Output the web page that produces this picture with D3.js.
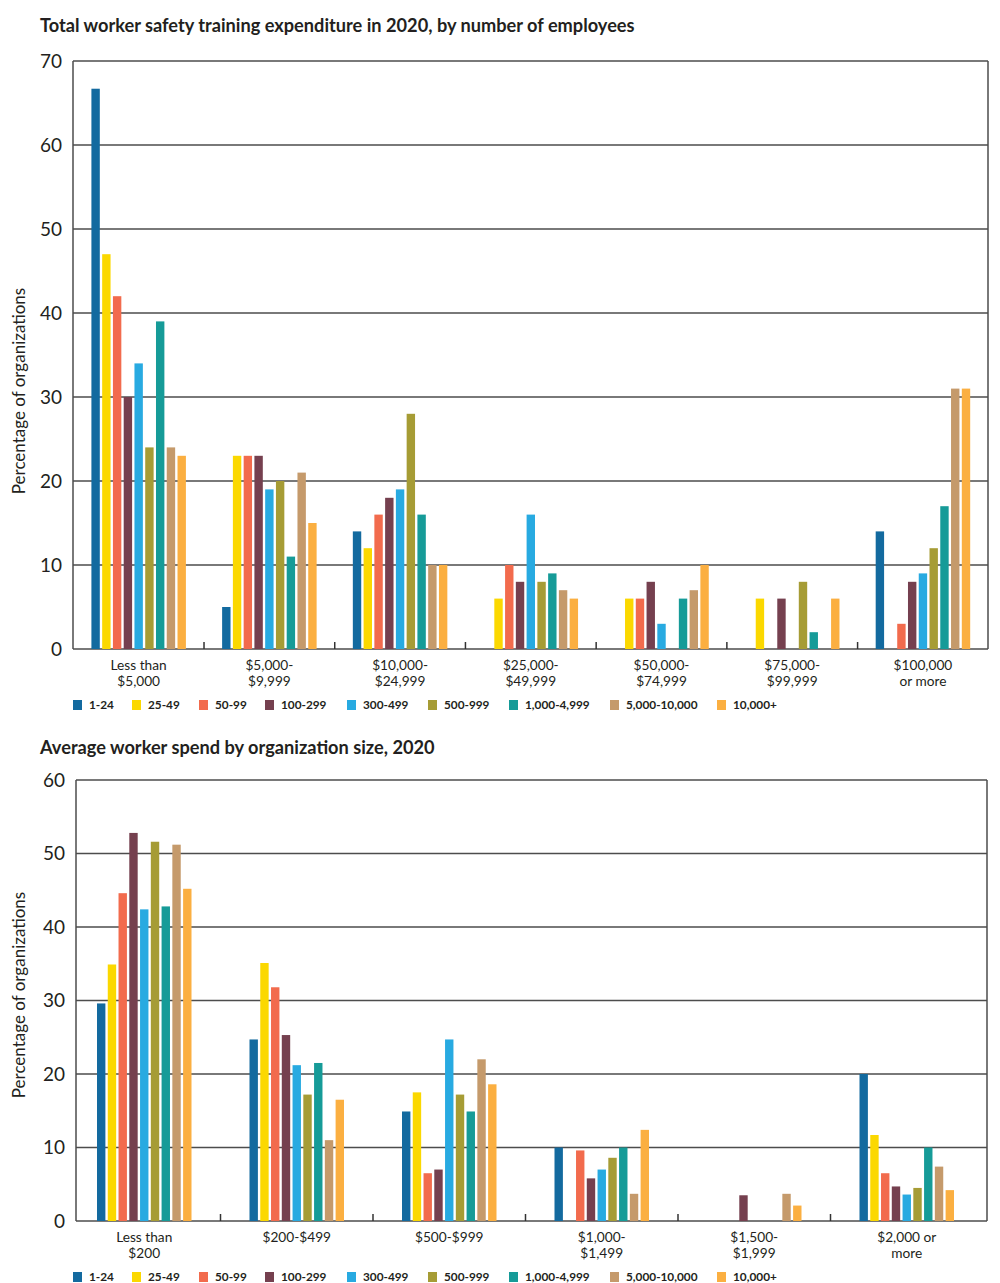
<!DOCTYPE html>
<html lang="en">
<head>
<meta charset="UTF-8">
<title>Worker safety training</title>
<script src="https://cdn.jsdelivr.net/npm/d3@7"></script>
<style>
  body { margin: 0; background: #fff; }
  text { font-family: Lato, "Open Sans", sans-serif; fill: #231f20; }
</style>
</head>
<body>
<script>
// series (organisation size) and colours
var sizes = ['1-24', '25-49', '50-99', '100-299', '300-499', '500-999', '1,000-4,999', '5,000-10,000', '10,000+'];
var colors = ['#136a9f', '#fbd800', '#f26b4d', '#75404f', '#28aae1', '#a69c35', '#169b98', '#c59a6b', '#fbaf41'];

// chart 1: total expenditure
var totalCats = [['Less than', '$5,000'], ['$5,000-', '$9,999'], ['$10,000-', '$24,999'], ['$25,000-', '$49,999'],
                 ['$50,000-', '$74,999'], ['$75,000-', '$99,999'], ['$100,000', 'or more']];
var totalValues = [
  [66.7, 47, 42, 30, 34, 24, 39, 24, 23],
  [5, 23, 23, 23, 19, 20, 11, 21, 15],
  [14, 12, 16, 18, 19, 28, 16, 10, 10],
  [0, 6, 10, 8, 16, 8, 9, 7, 6],
  [0, 6, 6, 8, 3, 0, 6, 7, 10],
  [0, 6, 0, 6, 0, 8, 2, 0, 6],
  [14, 0, 3, 8, 9, 12, 17, 31, 31]
];
var totalTicks = [0, 10, 20, 30, 40, 50, 60, 70];

// chart 2: average spend per worker
var avgCats = [['Less than', '$200'], ['$200-$499'], ['$500-$999'], ['$1,000-', '$1,499'], ['$1,500-', '$1,999'], ['$2,000 or', 'more']];
var avgValues = [
  [29.6, 34.9, 44.6, 52.8, 42.4, 51.6, 42.8, 51.2, 45.2],
  [24.7, 35.1, 31.8, 25.3, 21.2, 17.2, 21.5, 11.0, 16.5],
  [14.9, 17.5, 6.5, 7.0, 24.7, 17.2, 14.9, 22.0, 18.6],
  [10.0, 0, 9.6, 5.8, 7.0, 8.6, 10.0, 3.7, 12.4],
  [0, 0, 0, 3.5, 0, 0, 0, 3.7, 2.1],
  [20.0, 11.7, 6.5, 4.7, 3.6, 4.5, 10.0, 7.4, 4.2]
];
var avgTicks = [0, 10, 20, 30, 40, 50, 60];

var svg = d3.select('body').append('svg')
    .attr('width', 1000)
    .attr('height', 1283);

function drawChart(o) {
    var g = svg.append('g');

    g.append('text')
        .attr('x', 40).attr('y', o.titleY)
        .style('font-size', '18.2px').style('font-weight', 700)
        .text(o.title);

    var y = d3.scaleLinear().domain([0, d3.max(o.ticks)]).range([o.bottom, o.top]);
    var x0 = d3.scaleBand().domain(d3.range(o.cats.length)).range(o.band);
    var x1 = d3.scaleBand().domain(d3.range(sizes.length))
        .range([0, sizes.length * 10.5]).paddingInner(0.22);
    var groupOffset = (x0.bandwidth() - sizes.length * 10.5) / 2;

    // grid lines
    g.selectAll('.grid').data(o.ticks).enter().append('line')
        .attr('x1', o.left).attr('x2', o.right)
        .attr('y1', function (d) { return y(d); })
        .attr('y2', function (d) { return y(d); })
        .attr('stroke', '#4d4d4d').attr('stroke-width', 1.5);

    // y axis (labels only, the frame is drawn by hand)
    var yAxis = d3.axisLeft(y).tickValues(o.ticks).tickSize(0).tickPadding(11);
    var ya = g.append('g').attr('transform', 'translate(' + o.left + ',0)').call(yAxis);
    ya.select('.domain').remove();
    ya.selectAll('text').style('font-size', '19px').style('font-weight', 400)
        .style('font-family', 'Lato, sans-serif').attr('fill', '#231f20');

    // frame
    g.append('line').attr('x1', o.left).attr('x2', o.left).attr('y1', o.top).attr('y2', o.bottom)
        .attr('stroke', '#4d4d4d').attr('stroke-width', 1.5);
    g.append('line').attr('x1', o.right).attr('x2', o.right).attr('y1', o.top).attr('y2', o.bottom)
        .attr('stroke', '#4d4d4d').attr('stroke-width', 1.5);

    // category separators
    g.selectAll('.sep').data(d3.range(1, o.cats.length)).enter().append('line')
        .attr('x1', function (d) { return x0(d); })
        .attr('x2', function (d) { return x0(d); })
        .attr('y1', o.bottom).attr('y2', o.bottom - 7)
        .attr('stroke', '#333').attr('stroke-width', 1.5);

    // bars
    var groups = g.selectAll('.grp').data(o.values).enter().append('g')
        .attr('transform', function (d, i) { return 'translate(' + (x0(i) + groupOffset) + ',0)'; });
    groups.selectAll('rect').data(function (d) { return d; }).enter().append('rect')
        .attr('x', function (d, i) { return x1(i); })
        .attr('y', function (d) { return y(d); })
        .attr('width', x1.bandwidth())
        .attr('height', function (d) { return o.bottom - y(d); })
        .attr('fill', function (d, i) { return colors[i]; });

    // category labels
    var lab = g.selectAll('.cat').data(o.cats).enter().append('text')
        .attr('x', function (d, i) { return x0(i) + x0.bandwidth() / 2; })
        .attr('y', o.bottom + 21)
        .attr('text-anchor', 'middle')
        .style('font-size', '13.7px');
    lab.selectAll('tspan').data(function (d) { return d; }).enter().append('tspan')
        .attr('x', function () { return d3.select(this.parentNode).attr('x'); })
        .attr('dy', function (d, i) { return i === 0 ? 0 : 15.5; })
        .text(function (d) { return d; });

    // y title
    g.append('text')
        .attr('transform', 'translate(' + o.ylabX + ',' + o.ylabY + ') rotate(-90)')
        .attr('text-anchor', 'middle')
        .style('font-size', '17px')
        .text('Percentage of organizations');

    // legend
    var legX = [73, 132, 199, 265, 347, 428, 509, 610, 717];
    var leg = g.selectAll('.leg').data(sizes).enter().append('g')
        .attr('transform', function (d, i) { return 'translate(' + legX[i] + ',' + o.legY + ')'; });
    leg.append('rect').attr('x', 0).attr('y', -5).attr('width', 9).attr('height', 10)
        .attr('fill', function (d, i) { return colors[i]; });
    leg.append('text').attr('x', 16).attr('y', 4)
        .style('font-size', '11.8px').style('font-weight', 700)
        .text(function (d) { return d; });
}

drawChart({
    title: 'Total worker safety training expenditure in 2020, by number of employees',
    titleY: 32, cats: totalCats, values: totalValues, ticks: totalTicks,
    top: 61, bottom: 649, left: 73, right: 988, band: [73.3, 988.3],
    ylabX: 25, ylabY: 391, legY: 705
});

drawChart({
    title: 'Average worker spend by organization size, 2020',
    titleY: 754, cats: avgCats, values: avgValues, ticks: avgTicks,
    top: 780, bottom: 1221, left: 76, right: 987, band: [68, 983],
    ylabX: 25, ylabY: 995, legY: 1277
});
</script>
</body>
</html>
